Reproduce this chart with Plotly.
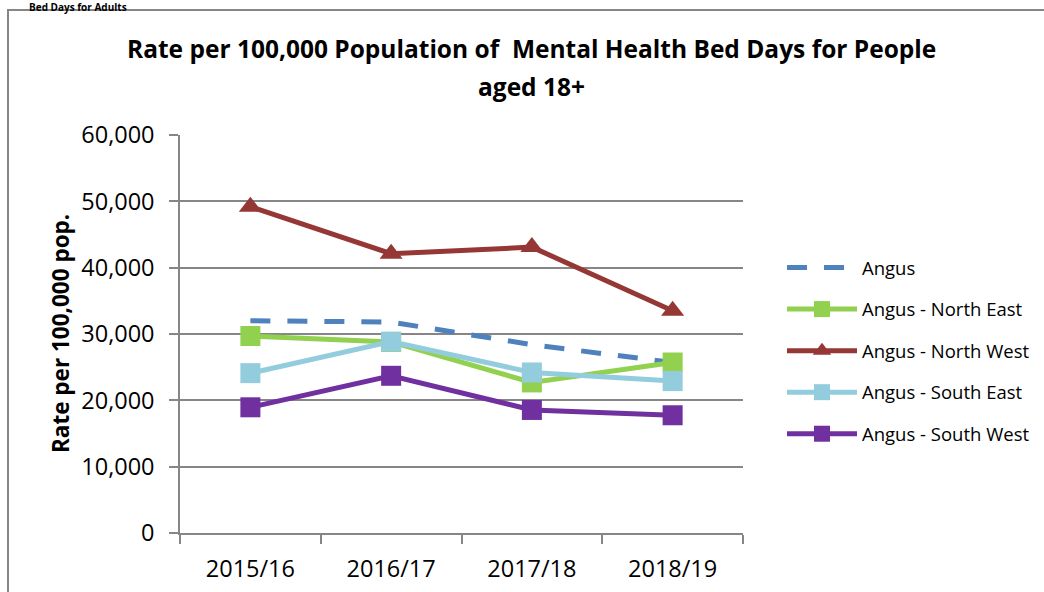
import plotly.graph_objects as go

categories = ["2015/16", "2016/17", "2017/18", "2018/19"]
angus = [32000, 31800, 28400, 25700]
north_east = [29700, 28800, 22700, 25700]
north_west = [49200, 42100, 43100, 33500]
south_east = [24100, 28850, 24200, 22900]
south_west = [18950, 23700, 18550, 17750]
y_ticks = [0, 10000, 20000, 30000, 40000, 50000, 60000]

FONT = "Open Sans"
GRID = "#868686"

# plot area in page pixels
PL, PR, PT, PB = 180, 743, 135, 533
PW, PH = PR - PL, PB - PT


def px(x):
    return (x - PL) / PW


def py(y):
    return (PB - y) / PH


fig = go.Figure()

series = [
    ("Angus", angus, "#4F81BD", None, "20px,17px"),
    ("Angus - North East", north_east, "#92D050", "square", "solid"),
    ("Angus - North West", north_west, "#953735", "triangle-up", "solid"),
    ("Angus - South East", south_east, "#93CDDD", "square", "solid"),
    ("Angus - South West", south_west, "#7030A0", "square", "solid"),
]
for i, (name, vals, color, sym, dash) in enumerate(series):
    mode = "lines" if sym is None else "lines+markers"
    fig.add_trace(go.Scatter(
        x=categories, y=vals, name=name, mode=mode,
        legendgroup=f"g{i}",
        line=dict(color=color, width=5, dash=dash),
        marker=dict(symbol=sym or "circle", size=20, color=color,
                    line=dict(width=0)),
    ))

fig.update_layout(
    width=1044, height=592,
    margin=dict(l=PL, r=1044 - PR, t=PT, b=592 - PB, autoexpand=False),
    paper_bgcolor="white", plot_bgcolor="white",
    font=dict(family=FONT, size=20, color="black"),
    showlegend=True,
    legend=dict(x=px(782), xanchor="left", y=py(249), yanchor="top",
                font=dict(size=18.5), tracegroupgap=14.5, itemwidth=70,
                bgcolor="rgba(0,0,0,0)"),
    xaxis=dict(type="category", range=[-0.5, 3.5], tickson="boundaries",
               ticks="outside", ticklen=9, tickcolor=GRID, tickwidth=1.5,
               showline=True, linecolor=GRID, linewidth=1.5,
               showgrid=False, zeroline=False, ticklabelstandoff=14,
               automargin=False, tickfont=dict(size=23.5)),
    yaxis=dict(range=[0, 60000], tickvals=y_ticks, tickformat=",",
               ticks="outside", ticklen=9, tickcolor=GRID, tickwidth=1.5,
               showline=True, linecolor=GRID, linewidth=1.5,
               showgrid=True, gridcolor=GRID, gridwidth=1.5,
               zeroline=False, ticklabelstandoff=10, automargin=False,
               tickfont=dict(size=23.5)),
)

fig.add_annotation(
    text="<b>Rate per 100,000 Population of  Mental Health Bed Days for People</b>",
    xref="paper", yref="paper", x=px(531), y=py(48),
    xanchor="center", yanchor="middle", showarrow=False,
    font=dict(size=24.5, family=FONT))
fig.add_annotation(
    text="<b>aged 18+</b>",
    xref="paper", yref="paper", x=px(531), y=py(87),
    xanchor="center", yanchor="middle", showarrow=False,
    font=dict(size=24.5, family=FONT))

fig.add_annotation(
    text="<b>Rate per 100,000 pop.</b>", textangle=-90,
    xref="paper", yref="paper", x=px(60), y=py(334),
    xanchor="center", yanchor="middle", showarrow=False,
    font=dict(size=22.5, family=FONT))

fig.add_annotation(
    text="<b>Bed Days for Adults</b>",
    xref="paper", yref="paper", x=px(28), y=py(-1),
    xanchor="left", yanchor="top", showarrow=False, borderpad=0,
    font=dict(size=10, family=FONT))

fig.add_shape(type="rect", xref="paper", yref="paper",
              x0=px(8), x1=px(1070), y0=py(620), y1=py(10),
              line=dict(color=GRID, width=2), fillcolor="rgba(0,0,0,0)",
              layer="below")

fig.write_html(
    "out.html",
    config={"displayModeBar": False},
    post_script="document.body.style.margin='0px';"
                "document.body.style.overflow='hidden';")
